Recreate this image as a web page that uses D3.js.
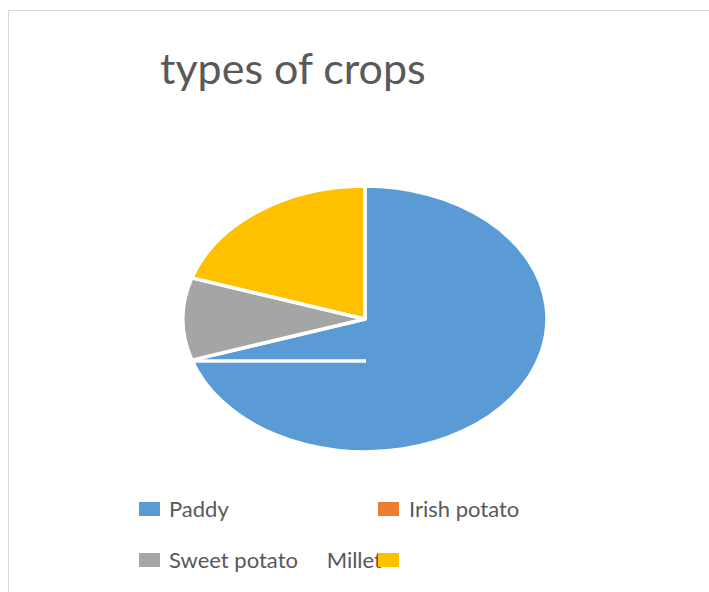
<!DOCTYPE html>
<html>
<head>
<meta charset="utf-8">
<script src="https://cdn.jsdelivr.net/npm/d3@7"></script>
<style>
  body { margin: 0; background: #fff; }
  text { font-family: Lato, "Open Sans", sans-serif; fill: #595959; }
</style>
</head>
<body>
<div id="vis"></div>
<script>
const categories = ["Paddy", "Irish potato", "Sweet potato", "Millet"];
const values = [70, 0, 10, 20];
const colors = ["#5B9BD5", "#ED7D31", "#A5A5A5", "#FFC000"];
const title = "types of crops";

const FRAME_WIDTH = 709;
const FRAME_HEIGHT = 592;

const CX = 365, CY = 319;
const RX = 182, RY = 133;

const data = categories.map((c, i) => ({category: c, value: values[i], color: colors[i]}));

const FRAME = d3.select("#vis")
    .append("svg")
        .attr("width", FRAME_WIDTH)
        .attr("height", FRAME_HEIGHT);

// chart border
FRAME.append("rect")
    .attr("x", 8.5)
    .attr("y", 10.5)
    .attr("width", 800)
    .attr("height", 700)
    .attr("fill", "none")
    .attr("stroke", "#d9d9d9")
    .attr("stroke-width", 1);

// title
FRAME.append("text")
    .attr("x", 160)
    .attr("y", 84)
    .attr("font-size", "43px")
    .text(title);

// pie, squashed into an ellipse
const pie = d3.pie().sort(null).value(d => d.value);
const arc = d3.arc().innerRadius(0).outerRadius(RX);
const arcs = pie(data);

const PIE = FRAME.append("g")
    .attr("transform", "translate(" + CX + "," + CY + ") scale(1," + (RY / RX) + ")");

PIE.selectAll("path")
    .data(arcs.filter(d => d.value > 0))
    .enter()
    .append("path")
        .attr("d", arc)
        .attr("fill", d => d.data.color)
        .attr("stroke", "#fff")
        .attr("stroke-width", 3.5)
        .attr("stroke-linejoin", "round")
        .attr("vector-effect", "non-scaling-stroke");

// odd white line at end of first slice
const endA = arcs[0].endAngle;
const ex = CX + RX * Math.sin(endA);
const ey = CY - RY * Math.cos(endA);
FRAME.append("line")
    .attr("x1", ex)
    .attr("y1", ey + 1)
    .attr("x2", CX + 1)
    .attr("y2", ey + 1)
    .attr("stroke", "#fff")
    .attr("stroke-width", 3.5);

// legend
const legendPos = [
    {sx: 139, y: 509, tx: 169, anchor: "start"},
    {sx: 378, y: 509, tx: 409, anchor: "start"},
    {sx: 139, y: 560, tx: 169, anchor: "start"},
    {sx: 378, y: 560, tx: 382, anchor: "end"}
];

const LEGEND = FRAME.selectAll(".legend")
    .data(data)
    .enter()
    .append("g")
        .attr("class", "legend");

LEGEND.append("text")
    .attr("x", (d, i) => legendPos[i].tx)
    .attr("y", (d, i) => legendPos[i].y + 8)
    .attr("text-anchor", (d, i) => legendPos[i].anchor)
    .attr("font-size", "22px")
    .text(d => d.category);

LEGEND.append("rect")
    .attr("x", (d, i) => legendPos[i].sx)
    .attr("y", (d, i) => legendPos[i].y - 7)
    .attr("width", 21)
    .attr("height", 14)
    .attr("fill", d => d.color);
</script>
</body>
</html>
